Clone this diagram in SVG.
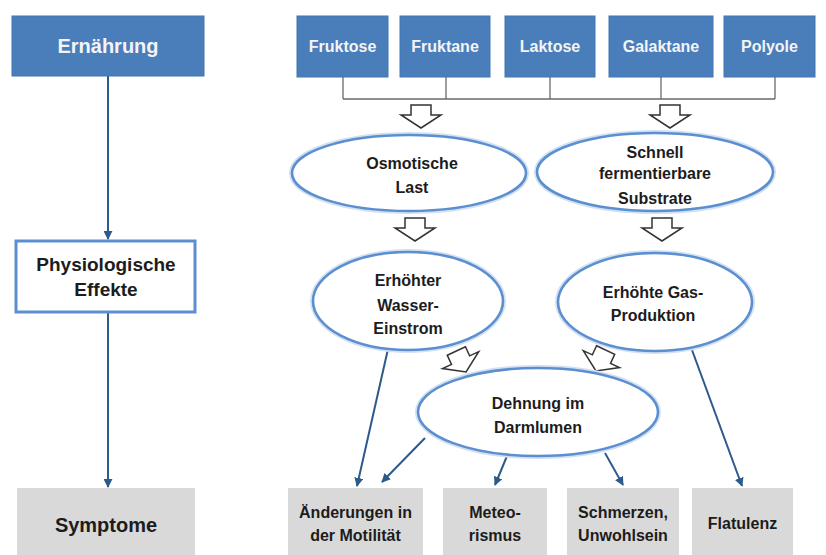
<svg xmlns="http://www.w3.org/2000/svg" width="826" height="555" viewBox="0 0 826 555">
<defs>
<style>
.blue{fill:#4a7ebb;stroke:#4174b3;stroke-width:1}
.gray{fill:#d9d9d9}
.wtxt{font-family:"Liberation Sans",Arial,sans-serif;font-weight:bold;fill:#f4f4f4;text-anchor:middle}
.txt{font-family:"Liberation Sans",Arial,sans-serif;font-weight:bold;fill:#1c1c1c;text-anchor:middle}
.ell{fill:#ffffff;stroke:#5b8fd0;stroke-width:2.6}
.glow{fill:none;stroke:#d3e1f3;stroke-width:6}
.brk{fill:none;stroke:#6a6a6a;stroke-width:1.3}
.con{fill:none;stroke:#2c5a8a;stroke-width:2}
.hol{fill:#ffffff;stroke:#333333;stroke-width:1.5;stroke-linejoin:miter}
</style>
<marker id="ah" viewBox="0 0 10 10" refX="9" refY="5" markerWidth="9" markerHeight="9" markerUnits="userSpaceOnUse" orient="auto">
<path d="M0,0 L10,5 L0,10 Z" fill="#2c5a8a"/>
</marker>
<path id="hollow" d="M-10,-11 H10 V-1 H20 L0,12 L-20,-1 H-10 Z"/>
</defs>

<g id="connectors">
<line class="con" x1="108" y1="76" x2="108" y2="239" marker-end="url(#ah)"/>
<line class="con" x1="108" y1="313" x2="108" y2="487" marker-end="url(#ah)"/>
<path class="brk" d="M343,77 V99 M446,77 V99 M550,77 V99 M661,77 V99 M775,77 V99 M343,99 H775"/>
<use href="#hollow" class="hol" transform="translate(421,116)"/>
<use href="#hollow" class="hol" transform="translate(670,116)"/>
<use href="#hollow" class="hol" transform="translate(415,229)"/>
<use href="#hollow" class="hol" transform="translate(662,229)"/>
<use href="#hollow" class="hol" transform="translate(461,361) rotate(-25)"/>
<use href="#hollow" class="hol" transform="translate(601,360) rotate(25)"/>
<line class="con" x1="388" y1="349" x2="357" y2="486" marker-end="url(#ah)"/>
<line class="con" x1="425" y1="438" x2="382" y2="482" marker-end="url(#ah)"/>
<line class="con" x1="507" y1="456" x2="495" y2="485" marker-end="url(#ah)"/>
<line class="con" x1="605" y1="453" x2="623" y2="485" marker-end="url(#ah)"/>
<line class="con" x1="692" y1="350" x2="742" y2="486" marker-end="url(#ah)"/>
</g>

<g id="ernaehrung">
<rect class="blue" x="12" y="16" width="192" height="60"/>
<text class="wtxt" x="108" y="53" font-size="20">Ernährung</text>
</g>
<g id="physiologische">
<rect x="16" y="241" width="179" height="71" fill="#ffffff" stroke="#5b8fd0" stroke-width="3"/>
<text class="txt" x="106" y="271" font-size="19">Physiologische</text>
<text class="txt" x="106" y="296" font-size="19">Effekte</text>
</g>
<g id="symptome">
<rect class="gray" x="17" y="488" width="178" height="67"/>
<text class="txt" x="106" y="532" font-size="20">Symptome</text>
</g>

<g id="fruktose">
<rect class="blue" x="297" y="16" width="91" height="61"/>
<text class="wtxt" x="342.5" y="52" font-size="16">Fruktose</text>
</g>
<g id="fruktane">
<rect class="blue" x="400" y="16" width="90" height="61"/>
<text class="wtxt" x="445" y="52" font-size="16">Fruktane</text>
</g>
<g id="laktose">
<rect class="blue" x="505" y="16" width="90" height="61"/>
<text class="wtxt" x="550" y="52" font-size="16">Laktose</text>
</g>
<g id="galaktane">
<rect class="blue" x="609" y="16" width="104" height="61"/>
<text class="wtxt" x="661" y="52" font-size="16">Galaktane</text>
</g>
<g id="polyole">
<rect class="blue" x="724" y="16" width="91" height="61"/>
<text class="wtxt" x="769.5" y="52" font-size="16">Polyole</text>
</g>

<g id="osmotische">
<ellipse class="glow" cx="409" cy="173" rx="117" ry="38"/>
<ellipse class="ell" cx="409" cy="173" rx="117" ry="38"/>
<text class="txt" x="412" y="169" font-size="16">Osmotische</text>
<text class="txt" x="412" y="193" font-size="16">Last</text>
</g>
<g id="schnell">
<ellipse class="glow" cx="655" cy="172" rx="118" ry="39"/>
<ellipse class="ell" cx="655" cy="172" rx="118" ry="39"/>
<text class="txt" x="655" y="158" font-size="16">Schnell</text>
<text class="txt" x="655" y="179" font-size="16">fermentierbare</text>
<text class="txt" x="655" y="204" font-size="16">Substrate</text>
</g>
<g id="wasser">
<ellipse class="glow" cx="408" cy="301" rx="95" ry="49"/>
<ellipse class="ell" cx="408" cy="301" rx="95" ry="49"/>
<text class="txt" x="408" y="286" font-size="16">Erhöhter</text>
<text class="txt" x="408" y="311" font-size="16">Wasser-</text>
<text class="txt" x="408" y="334" font-size="16">Einstrom</text>
</g>
<g id="gas">
<ellipse class="glow" cx="655" cy="302" rx="97" ry="49"/>
<ellipse class="ell" cx="655" cy="302" rx="97" ry="49"/>
<text class="txt" x="653" y="298" font-size="16">Erhöhte Gas-</text>
<text class="txt" x="653" y="321" font-size="16">Produktion</text>
</g>
<g id="dehnung">
<ellipse class="glow" cx="538" cy="412" rx="120" ry="44"/>
<ellipse class="ell" cx="538" cy="412" rx="120" ry="44"/>
<text class="txt" x="538" y="409" font-size="16">Dehnung im</text>
<text class="txt" x="538" y="433" font-size="16">Darmlumen</text>
</g>

<g id="motilitaet">
<rect class="gray" x="288" y="488" width="135" height="67"/>
<text class="txt" x="355.5" y="518" font-size="16">Änderungen in</text>
<text class="txt" x="355.5" y="541" font-size="16">der Motilität</text>
</g>
<g id="meteorismus">
<rect class="gray" x="443" y="488" width="104" height="67"/>
<text class="txt" x="495" y="518" font-size="16">Meteo-</text>
<text class="txt" x="495" y="541" font-size="16">rismus</text>
</g>
<g id="schmerzen">
<rect class="gray" x="567" y="488" width="112" height="67"/>
<text class="txt" x="623" y="518" font-size="16">Schmerzen,</text>
<text class="txt" x="623" y="541" font-size="16">Unwohlsein</text>
</g>
<g id="flatulenz">
<rect class="gray" x="692" y="488" width="101" height="67"/>
<text class="txt" x="742.5" y="529" font-size="16">Flatulenz</text>
</g>
</svg>
